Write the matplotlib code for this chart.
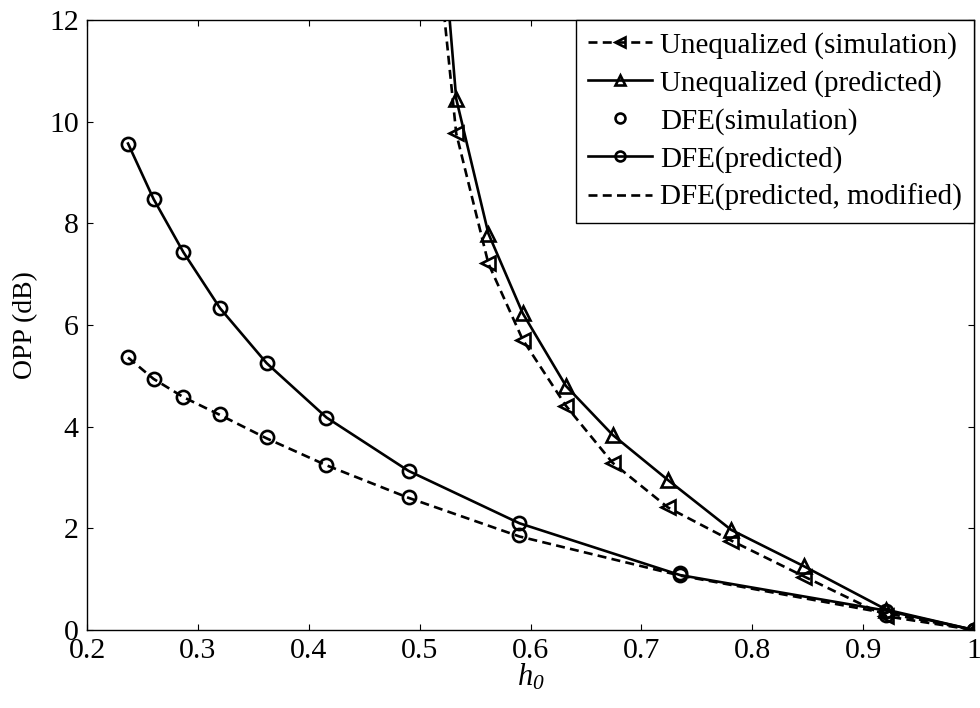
import matplotlib
matplotlib.use("Agg")
import matplotlib.pyplot as plt

# ---- data ----
h_dfe = [0.237, 0.260, 0.287, 0.320, 0.362, 0.416, 0.490, 0.590, 0.735, 0.921, 1.0]
dfe_pred = [9.57, 8.48, 7.43, 6.33, 5.25, 4.18, 3.13, 2.10, 1.08, 0.38, 0.0]
dfe_sim = [5.38, 4.94, 4.59, 4.25, 3.79, 3.25, 2.62, 1.87, 1.12, 0.30, 0.0]
dfe_mod = [5.36, 4.94, 4.58, 4.23, 3.77, 3.24, 2.60, 1.84, 1.07, 0.33, 0.0]

h_uneq = [0.510, 0.533, 0.562, 0.593, 0.632, 0.674, 0.724, 0.781, 0.847, 0.921, 1.0]
uneq_pred = [16.5, 10.45, 7.80, 6.23, 4.80, 3.84, 2.95, 1.97, 1.25, 0.40, 0.0]
uneq_sim = [14.7, 9.77, 7.21, 5.71, 4.41, 3.29, 2.41, 1.76, 1.05, 0.27, 0.0]

xticks = [0.2, 0.3, 0.4, 0.5, 0.6, 0.7, 0.8, 0.9, 1.0]
xticklabels = ["0.2", "0.3", "0.4", "0.5", "0.6", "0.7", "0.8", "0.9", "1"]
yticks = [0, 2, 4, 6, 8, 10, 12]

plt.rcParams['font.family'] = ['Liberation Serif', 'DejaVu Serif']
plt.rcParams['mathtext.fontset'] = 'custom'
plt.rcParams['mathtext.it'] = 'Liberation Serif:italic'
plt.rcParams['mathtext.rm'] = 'Liberation Serif:italic'

fig = plt.figure(figsize=(9.8, 7.08), dpi=100)
ax = fig.add_axes([87/980, 1-630/708, (974-87)/980, (630-20)/708])

lw = 1.9
ms = 9.5
mew = 1.9
dash = (0, (3.4, 2.0))

ax.plot(h_uneq, uneq_sim, linestyle=dash, color='k', lw=lw, marker='<', ms=ms,
        mfc='none', mec='k', mew=mew, label='Unequalized (simulation)')
ax.plot(h_uneq, uneq_pred, linestyle='-', color='k', lw=lw, marker='^', ms=ms,
        mfc='none', mec='k', mew=mew, label='Unequalized (predicted)')
ax.plot(h_dfe, dfe_sim, linestyle='none', marker='o', ms=ms,
        mfc='none', mec='k', mew=mew, label='DFE(simulation)')
ax.plot(h_dfe, dfe_pred, linestyle='-', color='k', lw=lw, marker='o', ms=ms,
        mfc='none', mec='k', mew=mew, label='DFE(predicted)')
ax.plot(h_dfe, dfe_mod, linestyle=dash, color='k', lw=lw, label='DFE(predicted, modified)')

ax.set_xlim(0.2, 1.0)
ax.set_ylim(0, 12)
ax.set_xticks(xticks)
ax.set_xticklabels(xticklabels)
ax.set_yticks(yticks)
ax.tick_params(direction='in', length=4, width=0.8, top=True, right=True,
               labelsize=21.5, pad=6)
for s in ax.spines.values():
    s.set_linewidth(1.0)

ax.set_xlabel(r'$h_0$', fontsize=22, labelpad=-2)
ax.set_ylabel('OPP (dB)', fontsize=20, labelpad=8)

leg = ax.legend(loc='upper right', fontsize=21, frameon=True, fancybox=False,
                edgecolor='k', framealpha=1, borderaxespad=0, handlelength=2.2,
                handletextpad=0.3, labelspacing=0.38, borderpad=0.4,
                markerscale=0.75)
leg.get_frame().set_linewidth(1.0)

fig.savefig('out.png', dpi=100)
